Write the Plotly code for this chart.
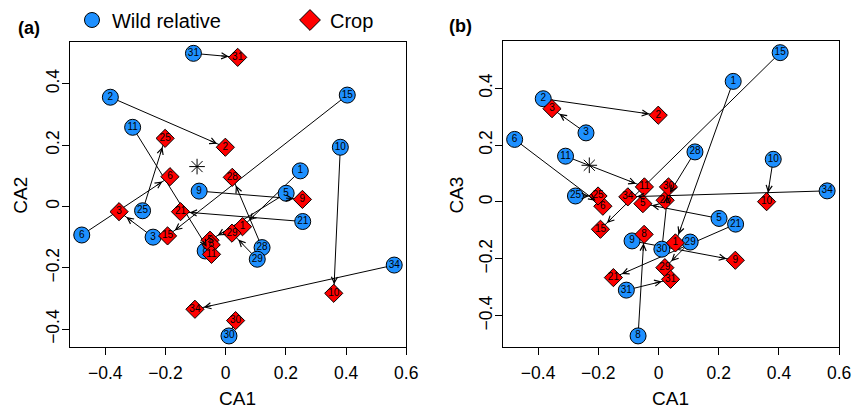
import math
import plotly.graph_objects as go

# ---------------- data ----------------
accessions = [1, 2, 3, 5, 6, 8, 9, 10, 11, 15, 21, 25, 28, 29, 30, 31, 34]

wild_ca1 = [0.248, -0.383, -0.241, 0.201, -0.478, -0.068, -0.088, 0.381, -0.309,
            0.404, 0.256, -0.276, 0.121, 0.105, 0.011, -0.107, 0.560]
wild_ca2 = [0.116, 0.356, -0.100, 0.043, -0.093, -0.145, 0.050, 0.193, 0.258,
            0.363, -0.049, -0.014, -0.134, -0.172, -0.422, 0.499, -0.191]
wild_ca3 = [0.424, 0.363, 0.243, -0.058, 0.220, -0.471, -0.137, 0.150, 0.161,
            0.525, -0.078, 0.021, 0.176, -0.141, -0.166, -0.310, 0.039]

crop_ca1 = [0.056, -0.001, -0.354, -0.052, -0.185, -0.048, 0.255, 0.359, -0.047,
            -0.193, -0.150, -0.201, 0.022, 0.021, 0.033, 0.040, -0.102]
crop_ca2 = [-0.066, 0.193, -0.017, -0.110, 0.097, -0.125, 0.023, -0.283, -0.156,
            -0.096, -0.017, 0.222, 0.095, -0.087, -0.372, 0.486, -0.335]
crop_ca3 = [-0.144, 0.305, 0.328, -0.006, -0.015, -0.114, -0.205, 0.001, 0.053,
            -0.096, -0.266, 0.021, 0.006, -0.231, 0.053, -0.272, 0.018]

star_ca1 = [-0.095, -0.230]
star_ca2 = [0.130]
star_ca3 = [0.129]

x_ticks = [-0.4, -0.2, 0.0, 0.2, 0.4, 0.6]
y_ticks = [-0.4, -0.2, 0.0, 0.2, 0.4]

# ---------------- geometry / style ----------------
W, H = 863, 411
PANEL_A = (71, 412, 42, 347)   # left, right, top, bottom (px)
PANEL_B = (510, 851, 41, 347)
X_RANGE = [-0.517, 0.600]
Y_RANGE_A = [-0.458, 0.536]
Y_RANGE_B = [-0.510, 0.566]

BLUE = "#1E90FF"
RED = "#FF0000"
FONT = "Liberation Sans, Arial, Helvetica, sans-serif"

fig = go.Figure()


def panel(xa, ya, wy, cy, star_xy, geom, yrange):
    # shafts
    lx, ly = [], []
    for i in range(len(accessions)):
        lx += [wild_ca1[i], crop_ca1[i], None]
        ly += [wy[i], cy[i], None]
    fig.add_trace(go.Scatter(x=lx, y=ly, mode="lines", xaxis=xa, yaxis=ya,
                             line=dict(color="black", width=1), showlegend=False,
                             hoverinfo="skip"))
    # star
    fig.add_trace(go.Scatter(x=[star_xy[0]], y=[star_xy[1]], mode="markers", xaxis=xa, yaxis=ya,
                             marker=dict(symbol="asterisk-open", size=13, color="black",
                                         line=dict(color="black", width=1)),
                             showlegend=False))
    # wild
    fig.add_trace(go.Scatter(x=wild_ca1, y=wy, mode="markers+text", xaxis=xa, yaxis=ya,
                             text=[str(a) for a in accessions], textposition="middle center",
                             textfont=dict(size=10, color="black", family=FONT),
                             marker=dict(symbol="circle", size=16, color=BLUE,
                                         line=dict(color="black", width=1)),
                             showlegend=False))
    # crop
    fig.add_trace(go.Scatter(x=crop_ca1, y=cy, mode="markers+text", xaxis=xa, yaxis=ya,
                             text=[str(a) for a in accessions], textposition="middle center",
                             textfont=dict(size=10, color="black", family=FONT),
                             marker=dict(symbol="diamond", size=14, color=RED,
                                         line=dict(color="black", width=1)),
                             showlegend=False))
    # arrow heads
    l, r, t, b = geom
    sx = (r - l) / (X_RANGE[1] - X_RANGE[0])
    sy = (b - t) / (yrange[1] - yrange[0])
    stand = 9
    for i in range(len(accessions)):
        dx = (wild_ca1[i] - crop_ca1[i]) * sx
        dy = -(wy[i] - cy[i]) * sy
        d = math.hypot(dx, dy)
        if d < 18:
            continue
        L = min(d - 7, stand + 9)
        fig.add_annotation(x=crop_ca1[i], y=cy[i], xref=xa, yref=ya,
                           ax=dx / d * L, ay=dy / d * L, text="",
                           showarrow=True, arrowhead=5, arrowsize=1.2, arrowwidth=1,
                           arrowcolor="black", standoff=stand)


panel("x", "y", wild_ca2, crop_ca2, (star_ca1[0], star_ca2[0]), PANEL_A, Y_RANGE_A)
panel("x2", "y2", wild_ca3, crop_ca3, (star_ca1[1], star_ca3[0]), PANEL_B, Y_RANGE_B)

# legend entries
fig.add_trace(go.Scatter(x=[None], y=[None], mode="markers", name="Wild relative",
                         marker=dict(symbol="circle", size=15, color=BLUE,
                                     line=dict(color="black", width=1))))
fig.add_trace(go.Scatter(x=[None], y=[None], mode="markers", name="Crop",
                         marker=dict(symbol="diamond", size=16, color=RED,
                                     line=dict(color="black", width=1))))

axis_common = dict(showline=True, mirror=True, linecolor="black", linewidth=1,
                   ticks="outside", ticklen=7, tickwidth=1, tickcolor="black",
                   showgrid=False, zeroline=False,
                   tickfont=dict(size=17.5, color="black", family=FONT))


def dom_x(g):
    return [g[0] / W, g[1] / W]


def dom_y(g):
    return [1 - g[3] / H, 1 - g[2] / H]


fig.update_layout(
    width=W, height=H, margin=dict(l=0, r=0, t=0, b=0),
    paper_bgcolor="white", plot_bgcolor="white",
    font=dict(family=FONT, color="black"),
    xaxis=dict(domain=dom_x(PANEL_A), range=X_RANGE, tickvals=x_ticks,
               ticklabelstandoff=3, anchor="y", **axis_common),
    yaxis=dict(domain=dom_y(PANEL_A), range=Y_RANGE_A, tickvals=y_ticks, tickangle=-90,
               ticklabelstandoff=-4, anchor="x", **axis_common),
    xaxis2=dict(domain=dom_x(PANEL_B), range=X_RANGE, tickvals=x_ticks,
                ticklabelstandoff=3, anchor="y2", **axis_common),
    yaxis2=dict(domain=dom_y(PANEL_B), range=Y_RANGE_B, tickvals=y_ticks, tickangle=-90,
                ticklabelstandoff=-4, anchor="x2", **axis_common),
    showlegend=True,
    legend=dict(orientation="h", x=(73) / W, y=1 - 20 / H, xanchor="left", yanchor="middle",
                font=dict(size=20, family=FONT, color="black"), entrywidth=173,
                entrywidthmode="pixels", bgcolor="rgba(0,0,0,0)", itemclick=False),
)

texts = [
    ("CA1", 241, 398, 0, 19, False),
    ("CA1", 680, 398, 0, 19, False),
    ("CA2", 20, 195, -90, 19, False),
    ("CA3", 462, 195, -90, 19, False),
    ("(a)", 29, 28, 0, 18, True),
    ("(b)", 467, 26, 0, 18, True),
]
for s, px, py, ang, sz, bold in texts:
    fig.add_annotation(x=px / W, y=1 - py / H, xref="paper", yref="paper",
                       text=f"<b>{s}</b>" if bold else s, showarrow=False, textangle=ang,
                       xanchor="center", yanchor="middle",
                       font=dict(size=sz, color="black", family=FONT))

fig.write_html("out.html", post_script="document.body.style.margin='0';",
               config={"displayModeBar": False})
